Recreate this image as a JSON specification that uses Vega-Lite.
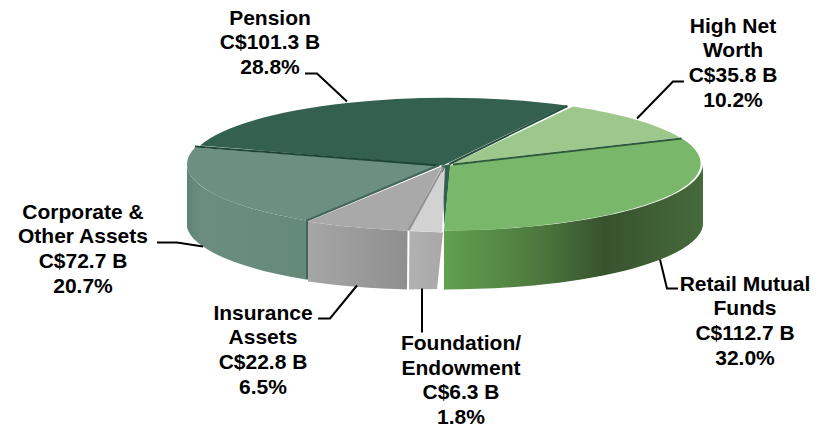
{
"$schema":"https://vega.github.io/schema/vega-lite/v6.json",
"width":825,"height":427,"padding":0,"autosize":{"type":"fit","contains":"padding"},
"background":"white","view":{"stroke":null},
"config":{"text":{"font":"Liberation Sans","fontWeight":"bold","fontSize":21,"align":"center","baseline":"top","lineBreak":"\n","lineHeight":24.7,"color":"#000000"}},
"data":{"values":[
{"segment":"Pension","assets_cad_b":101.3,"share_pct":28.8,"label":"Pension\nC$101.3 B\n28.8%"},
{"segment":"High Net Worth","assets_cad_b":35.8,"share_pct":10.2,"label":"High Net\nWorth\nC$35.8 B\n10.2%"},
{"segment":"Retail Mutual Funds","assets_cad_b":112.7,"share_pct":32.0,"label":"Retail Mutual\nFunds\nC$112.7 B\n32.0%"},
{"segment":"Foundation/Endowment","assets_cad_b":6.3,"share_pct":1.8,"label":"Foundation/\nEndowment\nC$6.3 B\n1.8%"},
{"segment":"Insurance Assets","assets_cad_b":22.8,"share_pct":6.5,"label":"Insurance\nAssets\nC$22.8 B\n6.5%"},
{"segment":"Corporate & Other Assets","assets_cad_b":72.7,"share_pct":20.7,"label":"Corporate &\nOther Assets\nC$72.7 B\n20.7%"}
]},
"layer":[
{"transform":[{"filter":{"field":"segment","equal":"Retail Mutual Funds"}}],
 "mark":{"type":"point","filled":true,"size":4,"opacity":1,"strokeWidth":0,"shape":"M31.5,18.5 A258,67 0 0 0 290.5,-49.5 L290.5,13.5 A258,67 0 0 1 31.5,77.5 Z",
 "fill":{"gradient":"linear","x1":0,"y1":0,"x2":1,"y2":0,"stops":[{"offset":0,"color":"#62a04f"},{"offset":0.35,"color":"#4e7a3f"},{"offset":0.62,"color":"#37532e"},{"offset":1,"color":"#466a3b"}]}},"encoding":{}},
{"transform":[{"filter":{"field":"segment","equal":"Foundation/Endowment"}}],
 "mark":{"type":"point","filled":true,"size":4,"opacity":1,"strokeWidth":0,"shape":"M-3.5,19 L30.5,20.5 L24.5,77 L-4.5,77.5 Z",
 "fill":{"gradient":"linear","x1":0,"y1":0,"x2":1,"y2":0,"stops":[{"offset":0,"color":"#b2b2b2"},{"offset":1,"color":"#a8a8a8"}]}},"encoding":{}},
{"transform":[{"filter":{"field":"segment","equal":"Insurance Assets"}}],
 "mark":{"type":"point","filled":true,"size":4,"opacity":1,"strokeWidth":0,"shape":"M-104.5,9.5 A258,67 0 0 0 -4.5,18.5 L-4.5,77.5 A258,67 0 0 1 -104.5,69.5 Z",
 "fill":{"gradient":"linear","x1":0,"y1":0,"x2":1,"y2":0,"stops":[{"offset":0,"color":"#a6a6a6"},{"offset":1,"color":"#8f8f8f"}]}},"encoding":{}},
{"transform":[{"filter":{"field":"segment","equal":"Corporate & Other Assets"}}],
 "mark":{"type":"point","filled":true,"size":4,"opacity":1,"strokeWidth":0,"shape":"M-106.5,8.5 A258,67 0 0 1 -225.5,-48.5 L-225.5,15.5 A258,67 0 0 0 -106.5,67.5 Z",
 "fill":{"gradient":"linear","x1":0,"y1":0,"x2":1,"y2":0,"stops":[{"offset":0,"color":"#5f8474"},{"offset":0.12,"color":"#6a8d7f"},{"offset":1,"color":"#648a7a"}]}},"encoding":{}},
{"mark":{"type":"point","filled":true,"size":4,"opacity":1,"strokeWidth":0},
 "encoding":{
  "shape":{"field":"segment","type":"nominal","legend":null,"scale":{"domain":["Pension","High Net Worth","Retail Mutual Funds","Foundation/Endowment","Insurance Assets","Corporate & Other Assets"],"range":[
   "M30.5,-46.5 L-212.5,-66.5 A258,67 0 0 1 154.5,-106.5 Z M38,-48 L32,14 L29,-46 Z",
   "M40.5,-48.5 L160.5,-105.5 A258,67 0 0 1 267.5,-74.5 Z",
   "M37.5,-46.5 L269.5,-73.5 A258,67 0 0 1 31.5,18.5 Z",
   "M32.5,-44.5 L-3.5,18.5 L29.5,20.5 Z",
   "M29.5,-45.5 L-104.5,9.5 A258,67 0 0 0 -4.5,18.5 Z",
   "M25.5,-46.5 L-217.5,-64.5 A258,67 0 0 0 -106.5,8.5 Z"]}},
  "fill":{"field":"segment","type":"nominal","legend":null,"scale":{"domain":["Pension","High Net Worth","Retail Mutual Funds","Foundation/Endowment","Insurance Assets","Corporate & Other Assets"],"range":["#34614f","#9dc88c","#79b86a","#d2d2d2","#a9a9a9","#6b8f81"]}}
 }},
{"mark":{"type":"point","filled":false,"size":4,"opacity":1,"strokeWidth":2,"fill":"transparent"},
 "encoding":{
  "shape":{"field":"segment","type":"nominal","legend":null,"scale":{"domain":["Pension","High Net Worth","Retail Mutual Funds","Foundation/Endowment","Insurance Assets","Corporate & Other Assets"],"range":[
   "M-217.5,-65.5 L27,-46.5",
   "M37,-48 L155,-106",
   "M40.5,-47.5 L269,-73.5",
   "M-4,19 L-4.5,78",
   "M31,-45 L-4,18.5",
   "M26,-46.5 L-105.5,8.5 L-105.5,67.5"]}},
  "stroke":{"field":"segment","type":"nominal","legend":null,"scale":{"domain":["Pension","High Net Worth","Retail Mutual Funds","Foundation/Endowment","Insurance Assets","Corporate & Other Assets"],"range":["#1d4436","#234f3e","#2f5a3a","#ffffff","#8f8f8f","#43655a"]}}
 }},
{"mark":{"type":"point","filled":false,"size":4,"opacity":1,"strokeWidth":2,"fill":"transparent","stroke":"#000000"},
 "encoding":{
  "shape":{"field":"segment","type":"nominal","legend":null,"scale":{"domain":["Pension","High Net Worth","Retail Mutual Funds","Foundation/Endowment","Insurance Assets","Corporate & Other Assets"],"range":[
   "M-107.5,-138.5 L-95.5,-138.5 L-65.5,-110.5",
   "M271.5,-130.5 L260.5,-130.5 L224.5,-93.5",
   "M247.5,47.5 L254.5,76.5 L265.5,76.5",
   "M9.5,76.5 L9.5,120.5",
   "M-94.5,106.5 L-82.5,106.5 L-55.5,73.5",
   "M-255.5,30.5 L-235.5,30.5 L-209.5,34.5"]}}
 }},
{"transform":[{"filter":{"field":"segment","equal":"Pension"}}],"mark":{"type":"text","dx":-142.5,"dy":-204.5},"encoding":{"text":{"field":"label","type":"nominal"}}},
{"transform":[{"filter":{"field":"segment","equal":"High Net Worth"}}],"mark":{"type":"text","dx":320.5,"dy":-196.5},"encoding":{"text":{"field":"label","type":"nominal"}}},
{"transform":[{"filter":{"field":"segment","equal":"Retail Mutual Funds"}}],"mark":{"type":"text","dx":332.5,"dy":61.5},"encoding":{"text":{"field":"label","type":"nominal"}}},
{"transform":[{"filter":{"field":"segment","equal":"Foundation/Endowment"}}],"mark":{"type":"text","dx":48.5,"dy":121},"encoding":{"text":{"field":"label","type":"nominal"}}},
{"transform":[{"filter":{"field":"segment","equal":"Insurance Assets"}}],"mark":{"type":"text","dx":-149.5,"dy":90.5},"encoding":{"text":{"field":"label","type":"nominal"}}},
{"transform":[{"filter":{"field":"segment","equal":"Corporate & Other Assets"}}],"mark":{"type":"text","dx":-329.5,"dy":-10.5},"encoding":{"text":{"field":"label","type":"nominal"}}}
],
"resolve":{"scale":{"shape":"independent","fill":"independent","stroke":"independent"}}
}
